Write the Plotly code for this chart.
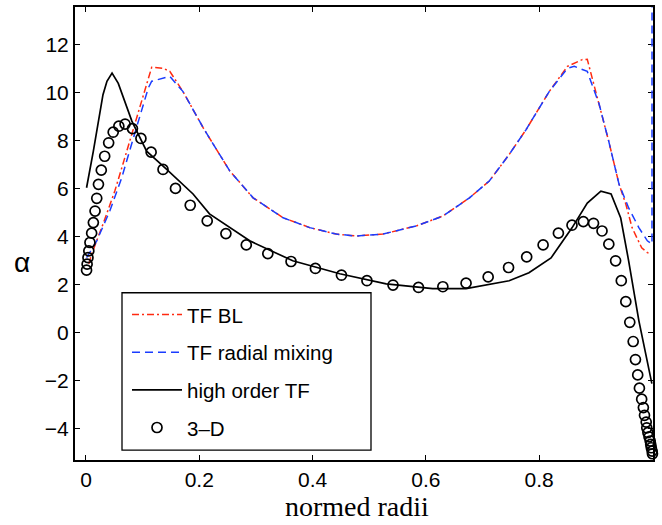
import plotly.graph_objects as go

# TF BL (red dash-dot)
bl_x = [0.005, 0.010, 0.030, 0.051, 0.065, 0.089, 0.107, 0.116, 0.136, 0.148, 0.171, 0.207, 0.254,
        0.295, 0.348, 0.395, 0.442, 0.477, 0.524, 0.583, 0.630, 0.677, 0.712, 0.747, 0.777, 0.818,
        0.850, 0.876, 0.885, 0.906, 0.923, 0.941, 0.953, 0.964, 0.981, 0.991, 0.997]
bl_y = [2.86, 3.27, 4.51, 5.90, 7.00, 8.93, 10.32, 11.04, 11.00, 10.87, 10.04, 8.52, 6.72,
        5.61, 4.78, 4.37, 4.10, 4.02, 4.10, 4.44, 4.85, 5.61, 6.31, 7.41, 8.45, 10.04,
        11.08, 11.36, 11.37, 9.50, 7.95, 6.18, 5.35, 4.37, 3.53, 3.33, 3.28]

# TF radial mixing (blue dashed)
rm_x = [0.001, 0.019, 0.042, 0.063, 0.089, 0.110, 0.116, 0.148, 0.171, 0.207, 0.254,
        0.295, 0.348, 0.395, 0.442, 0.477, 0.524, 0.583, 0.630, 0.677, 0.712, 0.747, 0.777, 0.818,
        0.850, 0.862, 0.885, 0.906, 0.923, 0.941, 0.958, 0.976, 0.991, 0.9992, 0.9995]
rm_y = [3.12, 3.82, 5.06, 6.44, 8.52, 10.18, 10.46, 10.66, 10.04, 8.52, 6.72,
        5.61, 4.78, 4.37, 4.10, 4.02, 4.10, 4.44, 4.85, 5.61, 6.31, 7.41, 8.45, 10.04,
        11.0, 11.08, 10.87, 9.50, 7.95, 6.18, 5.19, 4.37, 3.82, 3.69, 40.0]

# high order TF (black solid)
ho_x = [0.001, 0.013, 0.030, 0.037, 0.046, 0.057, 0.081, 0.107, 0.142, 0.189, 0.218, 0.289, 0.365,
        0.448, 0.530, 0.612, 0.671, 0.747, 0.782, 0.821, 0.858, 0.885, 0.909, 0.927, 0.944, 0.958,
        0.976, 0.999]
ho_y = [6.03, 7.55, 9.9, 10.46, 10.8, 10.37, 8.8, 7.55, 6.8, 5.77, 4.94, 3.82, 2.99,
        2.45, 2.03, 1.83, 1.83, 2.16, 2.49, 3.11, 4.36, 5.39, 5.89, 5.77, 4.77, 2.99,
        0.5, -2.12]

# 3-D (open circles)
d3_x = [0.001, 0.002, 0.0035, 0.005, 0.007, 0.010, 0.013, 0.016, 0.019, 0.022, 0.027, 0.033, 0.040,
        0.048, 0.058, 0.069, 0.082, 0.097, 0.115, 0.136, 0.158, 0.184, 0.214, 0.247, 0.283, 0.321,
        0.362, 0.405, 0.451, 0.496, 0.542, 0.587, 0.630, 0.671, 0.710, 0.746, 0.778, 0.807, 0.834,
        0.858, 0.878, 0.896, 0.911, 0.923, 0.935, 0.945, 0.953, 0.960, 0.966, 0.970, 0.974, 0.977,
        0.981, 0.984, 0.986, 0.989, 0.990, 0.992, 0.994, 0.996, 0.997, 0.998, 0.9995, 1.0]
d3_y = [2.60, 2.85, 3.12, 3.40, 3.75, 4.14, 4.58, 5.06, 5.59, 6.17, 6.76, 7.34, 7.90,
        8.34, 8.59, 8.68, 8.49, 8.08, 7.51, 6.79, 6.00, 5.30, 4.65, 4.12, 3.65, 3.29,
        2.96, 2.67, 2.39, 2.16, 1.98, 1.88, 1.91, 2.06, 2.32, 2.71, 3.15, 3.65, 4.14,
        4.47, 4.62, 4.55, 4.23, 3.68, 2.99, 2.16, 1.29, 0.43, -0.37, -1.12, -1.76, -2.31,
        -2.77, -3.12, -3.44, -3.72, -3.96, -4.16, -4.34, -4.51, -4.65, -4.79, -4.93, -5.04]

x_ticks = [0, 0.2, 0.4, 0.6, 0.8]
x_ticklabels = ["0", "0.2", "0.4", "0.6", "0.8"]
y_ticks = [-4, -2, 0, 2, 4, 6, 8, 10, 12]
y_ticklabels = ["\u22124", "\u22122", "0", "2", "4", "6", "8", "10", "12"]

L, R, T, B = 75, 9, 5, 65
W, H = 662, 525
PW, PH = W - L - R, H - T - B


def px_x(p):
    return (p - L) / PW


def px_y(p):
    return (H - B - p) / PH


fig = go.Figure()
fig.add_trace(go.Scatter(x=bl_x, y=bl_y, mode="lines", name="TF BL", legendgroup="a",
                         line=dict(color="#ff2a10", width=1.5, dash="7px,3px,2px,3px")))
fig.add_trace(go.Scatter(x=rm_x, y=rm_y, mode="lines", name="TF radial mixing", legendgroup="b",
                         line=dict(color="#1a3cff", width=1.5, dash="8px,5px")))
fig.add_trace(go.Scatter(x=ho_x, y=ho_y, mode="lines", name="high order TF", legendgroup="c",
                         line=dict(color="black", width=1.7)))
fig.add_trace(go.Scatter(x=d3_x, y=d3_y, mode="markers", name="3\u2013D", legendgroup="d",
                         cliponaxis=False,
                         marker=dict(symbol="circle-open", size=10, color="black",
                                     line=dict(width=1.7, color="black"))))

axis_common = dict(showline=True, linecolor="black", linewidth=2, mirror="ticks",
                   ticks="inside", ticklen=5, tickcolor="black", tickwidth=1,
                   showgrid=False, zeroline=False, layer="below traces",
                   tickfont=dict(family="Liberation Sans, Arial", size=21, color="black"))

fig.update_layout(
    width=W, height=H,
    margin=dict(l=L, r=R, t=T, b=B),
    paper_bgcolor="white", plot_bgcolor="white",
    xaxis=dict(range=[-0.0194, 1.001], tickvals=x_ticks, ticktext=x_ticklabels, **axis_common),
    yaxis=dict(range=[-5.3, 13.55], tickvals=y_ticks, ticktext=y_ticklabels, **axis_common),
    showlegend=True,
    legend=dict(x=px_x(127), y=px_y(294), xanchor="left", yanchor="top",
                bgcolor="rgba(0,0,0,0)", borderwidth=0,
                font=dict(family="Liberation Sans, Arial", size=20.5, color="black"),
                tracegroupgap=8, itemwidth=50),
    shapes=[dict(type="rect", xref="paper", yref="paper",
                 x0=px_x(122), x1=px_x(371), y0=px_y(450), y1=px_y(292),
                 line=dict(color="black", width=1.3), fillcolor="white", layer="below")],
    annotations=[
        dict(text="normed radii", x=px_x(357), y=px_y(507), xref="paper", yref="paper",
             xanchor="center", yanchor="middle", showarrow=False,
             font=dict(family="Liberation Serif, Times New Roman", size=28, color="black")),
        dict(text="\u03b1", x=px_x(22), y=px_y(262), xref="paper", yref="paper",
             xanchor="center", yanchor="middle", showarrow=False,
             font=dict(family="Liberation Sans, Arial", size=28, color="black")),
    ],
)

fig.write_html("out.html")
